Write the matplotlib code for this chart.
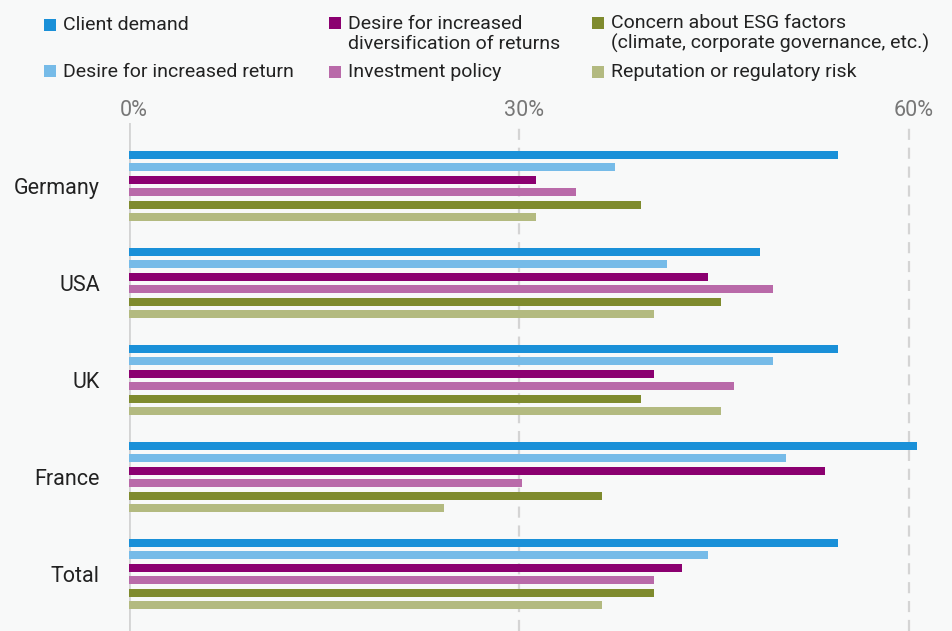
import matplotlib
matplotlib.use("Agg")
import matplotlib.pyplot as plt
import matplotlib.transforms as mtransforms
from matplotlib.patches import Rectangle
import numpy as np

plt.rcParams['font.family'] = ['Roboto', 'DejaVu Sans']

countries = ["Germany", "USA", "UK", "France", "Total"]
series = [
    "Client demand",
    "Desire for increased return",
    "Desire for increased\ndiversification of returns",
    "Investment policy",
    "Concern about ESG factors\n(climate, corporate governance, etc.)",
    "Reputation or regulatory risk",
]
client_demand = [54.5, 48.5, 54.5, 60.6, 54.5]
increased_return = [37.4, 41.4, 49.5, 50.5, 44.5]
diversification = [31.3, 44.5, 40.4, 53.5, 42.5]
investment_policy = [34.4, 49.5, 46.5, 30.2, 40.4]
esg_concern = [39.4, 45.5, 39.4, 36.4, 40.4]
reputation_risk = [31.3, 40.4, 45.5, 24.2, 36.4]

colors = ["#1a90d8", "#76bbe8", "#8b0070", "#b96aa9", "#7f8b2e", "#b3ba80"]
values = [client_demand, increased_return, diversification,
          investment_policy, esg_concern, reputation_risk]

bg = "#f8f9f9"
W, H = 952, 631
fig = plt.figure(figsize=(W / 100, H / 100), dpi=100, facecolor=bg)
ax = fig.add_axes([129 / W, 0, (W - 129) / W, (H - 123) / H], facecolor=bg)

group_px = 97.0
step = 12.4 / group_px
bar_h = 8 / group_px
y = np.arange(len(countries))
for j, (vals, col) in enumerate(zip(values, colors)):
    ax.barh(y + (j - 2.5) * step, vals, height=bar_h, color=col, zorder=3)

ax.set_xlim(0, 63.3)
ax.set_ylim(4.588, -0.649)

# reference lines
ax.axvline(0, color="#d4d4d4", lw=2, zorder=1)
for xv in (30, 60):
    ax.axvline(xv, color="#d4d4d4", lw=1.6, ls=(0, (5, 3.5)), zorder=1)

for s in ax.spines.values():
    s.set_visible(False)
ax.set_xticks([])
ax.set_yticks(y)
ax.set_yticklabels(countries, fontsize=15.5, color="#222222")
ax.tick_params(axis="y", length=0, pad=21)

# percentage labels above the plot
off = mtransforms.ScaledTranslation(5 / 100, 2 / 100, fig.dpi_scale_trans)
for xv in (0, 30, 60):
    ax.text(xv, 1.0, f"{xv}%", transform=ax.get_xaxis_transform() + off,
            ha="center", va="bottom", fontsize=15.5, color="#777777")

# legend, three columns (baseline given for the last line of each entry)
col_x = [44, 329, 592]
base_y = [[30, 77], [49, 77], [49, 77]]
box_y = [[19, 65], [17, 66], [17, 66]]
order = [[0, 1], [2, 3], [4, 5]]
for c in range(3):
    for r in range(2):
        k = order[c][r]
        fig.add_artist(Rectangle((col_x[c] / W, 1 - (box_y[c][r] + 12) / H), 12 / W, 12 / H,
                                 transform=fig.transFigure, color=colors[k], lw=0))
        fig.text((col_x[c] + 19) / W, 1 - base_y[c][r] / H, series[k], fontsize=14,
                 color="#222222", ha="left", va="baseline", linespacing=1.12)

fig.savefig("out.png", dpi=100, facecolor=bg)
